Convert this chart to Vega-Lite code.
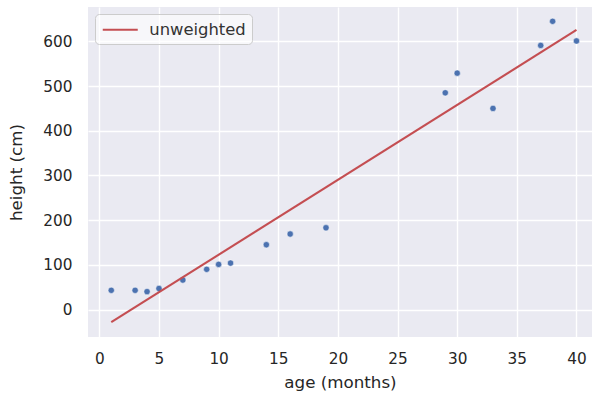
{
  "$schema": "https://vega.github.io/schema/vega-lite/v6.json",
  "autosize": "none",
  "width": 504,
  "height": 330,
  "padding": {"left": 88, "top": 7, "right": 0, "bottom": 62},
  "background": "white",
  "datasets": {
    "points": [
      {"age": 1, "height": 43},
      {"age": 3, "height": 43},
      {"age": 4, "height": 40},
      {"age": 5, "height": 47},
      {"age": 7, "height": 66},
      {"age": 9, "height": 90},
      {"age": 10, "height": 101},
      {"age": 11, "height": 104},
      {"age": 14, "height": 145},
      {"age": 16, "height": 169},
      {"age": 19, "height": 183},
      {"age": 29, "height": 485},
      {"age": 30, "height": 529},
      {"age": 33, "height": 450},
      {"age": 37, "height": 591},
      {"age": 38, "height": 645},
      {"age": 40, "height": 601}
    ],
    "fit": [
      {"age": 1, "height": -28.4, "series": "unweighted"},
      {"age": 40, "height": 625.7, "series": "unweighted"}
    ]
  },
  "layer": [
    {
      "data": {"name": "points"},
      "mark": {"type": "point", "filled": true, "size": 40, "color": "#4C72B0", "opacity": 1, "stroke": "white", "strokeWidth": 0.5},
      "encoding": {
        "x": {"field": "age", "type": "quantitative", "scale": {"domain": [-0.95, 41.3], "nice": false, "zero": false},
          "axis": {"title": "age (months)", "values": [0,5,10,15,20,25,30,35,40]}},
        "y": {"field": "height", "type": "quantitative", "scale": {"domain": [-61.5, 677], "nice": false, "zero": false},
          "axis": {"title": "height (cm)", "values": [0,100,200,300,400,500,600]}}
      }
    },
    {
      "data": {"name": "fit"},
      "mark": {"type": "line", "strokeWidth": 2.1},
      "encoding": {
        "x": {"field": "age", "type": "quantitative"},
        "y": {"field": "height", "type": "quantitative"},
        "color": {"field": "series", "type": "nominal", "scale": {"range": ["#C44E52"]},
          "legend": {"title": null, "orient": "top-left", "offset": 7, "symbolType": "M-2,0H2", "symbolSize": 306, "symbolStrokeWidth": 2.1, "symbolOffset": 9.5,
            "labelFontSize": 16.4, "labelFont": "DejaVu Sans", "labelColor": "#333333",
            "fillColor": "rgba(255,255,255,0.6)", "strokeColor": "#CCCCCC", "cornerRadius": 4, "padding": 5.75, "labelOffset": 19}}
      }
    }
  ],
  "config": {
    "view": {"fill": "#EAEAF2", "stroke": null},
    "axis": {
      "domain": false, "ticks": false,
      "grid": true, "gridColor": "white", "gridWidth": 1.4, "gridOpacity": 1,
      "labelFont": "DejaVu Sans", "labelFontSize": 15.3, "labelColor": "#262626",
      "titleFont": "DejaVu Sans", "titleFontSize": 16.7, "titleFontWeight": "normal", "titleColor": "#262626"
    },
    "axisX": {"labelPadding": 14, "titlePadding": 8},
    "axisY": {"labelPadding": 16, "titlePadding": 17}
  }
}
